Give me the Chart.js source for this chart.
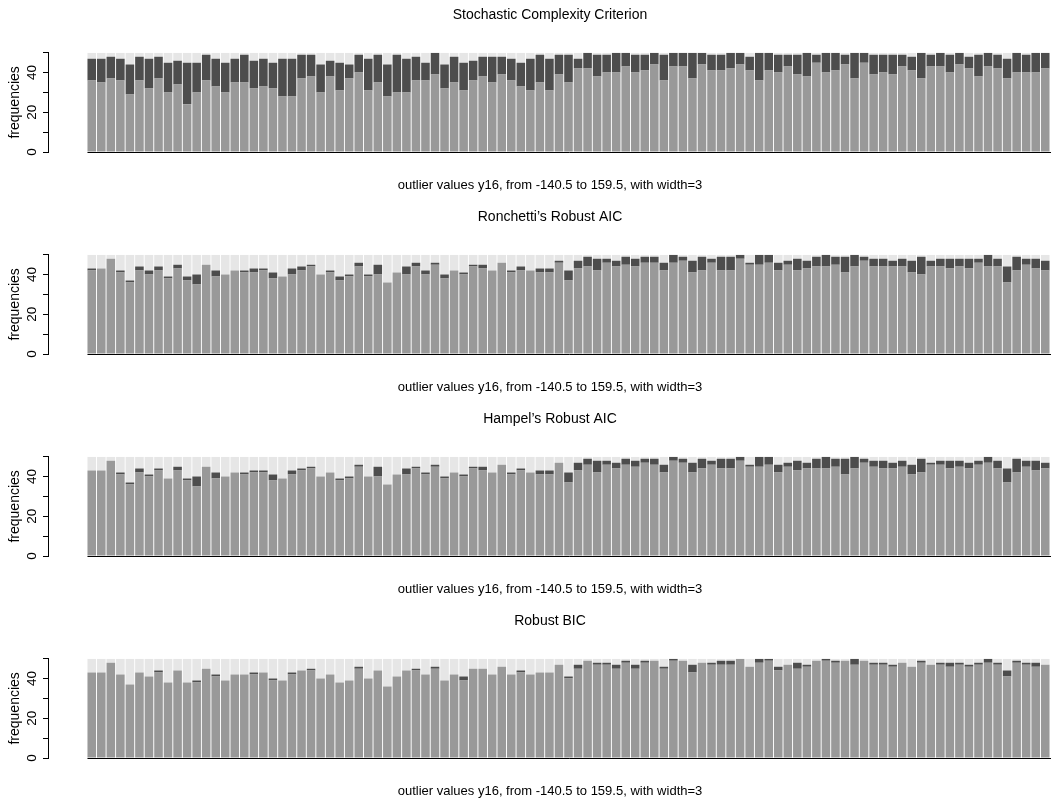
<!DOCTYPE html>
<html>
<head>
<meta charset="utf-8">
<script src="https://cdn.jsdelivr.net/npm/chart.js@4.4.1/dist/chart.umd.min.js"></script>
<style>
  body { margin: 0; background: #fff; }
  .panel { position: absolute; left: 0; width: 1057px; height: 202px; }
</style>
</head>
<body>
<div class="panel" style="top:0px"><canvas id="scc" width="1057" height="202"></canvas></div>
<div class="panel" style="top:202px"><canvas id="ronchetti" width="1057" height="202"></canvas></div>
<div class="panel" style="top:404px"><canvas id="hampel" width="1057" height="202"></canvas></div>
<div class="panel" style="top:606px"><canvas id="bic" width="1057" height="202"></canvas></div>
<script>
// outlier values y16: -140.5, -137.5, ..., 159.5 (width 3)
const outlierValues = Array.from({ length: 101 }, (_, k) => -140.5 + 3 * k);
const runsPerValue = 50;
const yTickLabels = [0, 20, 40];
const xLabel = 'outlier values y16, from -140.5 to 159.5, with width=3';

// Stochastic Complexity Criterion
const sccLight = [36,35,37,36,29,36,32,37,30,34, 24,30,36,33,30,35,35,32,33,32,
  28,28,37,38,30,38,31,37,40,31, 35,28,30,30,36,36,39,32,35,31, 36,38,35,39,36,33,31,35,31,39,
  35,42,42,38,40,40,43,40,41,44, 36,43,43,37,44,41,41,42,44,41, 36,41,40,43,39,38,45,40,41,44,
  37,45,39,40,39,43,41,37,43,43, 40,44,42,38,43,42,37,40,40,40, 42];
const sccDark = [11,12,11,11,15,12,15,11,15,12, 21,15,13,14,15,12,14,14,14,13,
  19,19,12,11,14,8,14,7,9,16, 14,16,19,17,12,9,11,12,13,14, 10,10,13,9,11,12,16,14,16,10,
  14,5,8,11,9,10,7,9,8,6, 13,7,7,13,6,8,8,8,6,7, 14,9,9,6,10,12,4,10,9,5,
  13,5,10,9,10,6,7,13,6,7, 9,6,6,11,7,7,10,10,9,10, 8];

// Ronchetti's Robust AIC
const ronLight = [42,43,48,41,36,42,40,42,38,43, 37,35,45,39,40,42,41,41,42,38,
  39,40,42,44,40,41,37,39,44,39, 40,36,41,40,44,40,45,38,42,40, 44,43,42,46,41,42,42,41,41,46,
  37,43,44,42,46,44,45,44,46,46, 42,46,47,41,42,46,42,42,48,45, 45,46,42,45,42,43,44,44,45,41,
  44,47,44,44,44,44,41,40,44,44, 43,44,43,46,44,44,36,42,45,43, 42];
const ronDark = [1,0,0,1,1,2,2,2,1,2, 2,5,0,3,0,0,1,2,1,3,
  0,3,2,1,0,1,2,1,2,1, 5,0,0,4,2,2,1,2,0,1, 1,2,0,0,1,2,0,2,2,1,
  5,4,5,6,2,3,4,4,3,3, 4,4,2,6,7,2,7,7,2,1, 5,4,4,2,6,4,5,6,4,8,
  6,2,4,4,3,4,6,9,3,4, 5,4,5,2,6,4,8,7,3,5, 5];

// Hampel's Robust AIC
const hamLight = [43,43,48,41,36,42,40,43,39,43, 38,35,45,39,40,42,41,42,42,38,
  39,41,43,44,40,42,38,39,45,40, 40,36,41,41,44,41,45,39,42,40, 44,43,42,46,41,43,42,41,41,47,
  37,43,46,42,46,44,46,45,47,46, 42,48,47,42,44,46,44,44,48,45, 45,46,42,45,43,44,44,44,45,41,
  44,47,45,44,44,45,41,42,46,46, 44,45,44,46,47,44,37,42,45,43, 44];
const hamDark = [0,0,0,1,1,2,1,1,0,2, 1,5,0,3,0,0,1,1,1,3,
  0,2,1,1,0,0,1,1,1,0, 5,0,0,3,1,1,1,1,0,1, 1,2,0,0,1,1,0,2,2,0,
  5,4,3,6,2,3,3,3,2,3, 4,2,2,5,5,2,5,5,2,1, 5,4,4,2,5,3,5,6,4,8,
  6,2,3,4,3,3,5,7,1,2, 4,3,3,2,3,4,7,7,3,5, 3];

// Robust BIC
const bicLight = [43,43,48,42,37,43,41,43,38,44, 38,38,45,41,39,42,42,42,43,39,
  39,42,44,44,40,42,38,39,45,40, 44,36,41,44,44,42,45,39,42,39, 45,45,42,46,42,43,42,43,43,47,
  40,45,49,47,47,45,48,45,48,49, 45,49,49,43,48,47,47,47,50,46, 48,49,44,47,45,46,49,49,48,49,
  47,49,47,47,46,48,46,48,47,47, 46,47,46,47,48,47,41,48,47,46, 47];
const bicDark = [0,0,0,0,0,0,0,1,0,0, 0,1,0,1,0,0,0,1,0,1,
  0,1,0,1,0,0,0,0,1,0, 0,0,0,0,1,0,1,0,0,2, 0,0,0,0,0,1,0,0,0,0,
  1,2,0,1,1,2,1,2,1,0, 1,1,0,4,0,1,2,2,0,0, 2,1,2,0,3,1,0,1,1,0,
  3,0,1,1,1,0,0,1,0,1, 2,1,1,1,2,1,3,1,1,2, 0];

const fontFamily = '"Liberation Sans", Arial, Helvetica, sans-serif';

// black line under the bars, first bar to last bar
const baseLine = {
    id: 'baseLine',
    afterDatasetsDraw(chart) {
        const { ctx, scales: { y } } = chart;
        const bars = chart.getDatasetMeta(0).data;
        const first = bars[0];
        const last = bars[bars.length - 1];
        const yPix = Math.round(y.getPixelForValue(0)) + 0.5;
        ctx.save();
        ctx.strokeStyle = '#000';
        ctx.lineWidth = 1;
        ctx.beginPath();
        ctx.moveTo(first.x - first.width / 2, yPix);
        ctx.lineTo(last.x + last.width / 2 + 1.5, yPix);
        ctx.stroke();
        ctx.restore();
    }
};

function makePanel(canvasId, title, light, dark) {
    const rest = light.map((v, i) => runsPerValue - v - dark[i]);
    new Chart(document.getElementById(canvasId), {
        type: 'bar',
        data: {
            labels: outlierValues,
            datasets: [
                { data: light, backgroundColor: '#999999' },
                { data: dark, backgroundColor: '#4d4d4d' },
                { data: rest, backgroundColor: '#e6e6e6' }
            ]
        },
        options: {
            responsive: false,
            animation: false,
            events: [],
            datasets: { bar: { categoryPercentage: 1, barPercentage: 0.9, borderWidth: 0 } },
            layout: { padding: { left: 0, right: 5, top: 0, bottom: 0 } },
            plugins: {
                legend: { display: false },
                tooltip: { enabled: false },
                title: {
                    display: true,
                    fullSize: false,
                    text: title,
                    color: '#000',
                    font: { family: fontFamily, size: 14, weight: 'normal', lineHeight: 1.2 },
                    padding: { top: 6.6, bottom: 29.3 }
                },
                subtitle: {
                    display: true,
                    fullSize: false,
                    position: 'bottom',
                    text: xLabel,
                    color: '#000',
                    font: { family: fontFamily, size: 13, weight: 'normal', lineHeight: 1.2 },
                    padding: { top: 25.7, bottom: 8.7 }
                }
            },
            scales: {
                x: {
                    type: 'linear',
                    display: false,
                    stacked: true,
                    offset: false,
                    min: -154.27,
                    max: 161.63
                },
                y: {
                    stacked: true,
                    min: 0,
                    max: runsPerValue,
                    afterFit: (scale) => { scale.width = 48; },
                    ticks: {
                        stepSize: 10,
                        minRotation: 90,
                        maxRotation: 90,
                        crossAlign: 'center',
                        padding: 3,
                        color: '#000',
                        font: { family: fontFamily, size: 13.5 },
                        callback: (v) => yTickLabels.includes(v) ? String(v) : ''
                    },
                    grid: { drawOnChartArea: false, drawTicks: true, tickLength: 5, color: '#000' },
                    border: { display: true, color: '#000', width: 1 },
                    title: {
                        display: true,
                        text: 'frequencies',
                        color: '#000',
                        font: { family: fontFamily, size: 14, lineHeight: 1.2 },
                        padding: { top: 7, bottom: 0 }
                    }
                }
            }
        },
        plugins: [baseLine]
    });
}

makePanel('scc', 'Stochastic Complexity Criterion', sccLight, sccDark);
makePanel('ronchetti', 'Ronchetti\u2019s Robust AIC', ronLight, ronDark);
makePanel('hampel', 'Hampel\u2019s Robust AIC', hamLight, hamDark);
makePanel('bic', 'Robust BIC', bicLight, bicDark);
</script>
</body>
</html>
